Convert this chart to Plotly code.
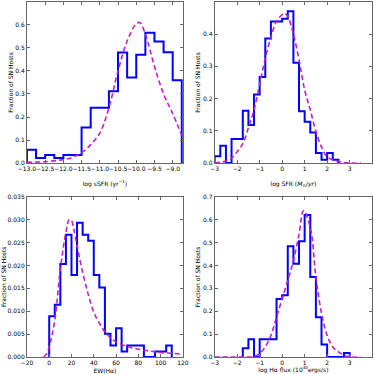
import numpy as np
import plotly.graph_objects as go

# --- top left: specific star formation rate
ssfr_edges = np.arange(-13.0, -8.74, 0.25)
ssfr_frac = [0.058, 0.022, 0.035, 0.022, 0.035, 0.035, 0.154, 0.240, 0.240,
             0.312, 0.480, 0.372, 0.470, 0.566, 0.528, 0.481, 0.360]
ssfr_fit_x = [-13.0, -12.5, -12.0, -11.75, -11.5, -11.25, -11.0, -10.75, -10.5,
              -10.25, -10.0, -9.9, -9.75, -9.5, -9.25, -9.0, -8.75]
ssfr_fit_y = [0.003, 0.006, 0.015, 0.025, 0.045, 0.08, 0.13, 0.24, 0.40,
              0.53, 0.605, 0.61, 0.56, 0.42, 0.30, 0.215, 0.12]

# --- top right: star formation rate
sfr_edges = np.arange(-3.0, 2.51, 0.25)
sfr_frac = [0.021, 0.054, 0.0, 0.075, 0.075, 0.162, 0.118, 0.213, 0.267, 0.386,
            0.439, 0.439, 0.448, 0.471, 0.311, 0.161, 0.128, 0.095, 0.031, 0.010,
            0.031, 0.010]
sfr_fit_x = [-3.0, -2.5, -2.25, -2.0, -1.75, -1.5, -1.25, -1.0, -0.75, -0.5, -0.25,
             0.0, 0.1, 0.25, 0.5, 0.75, 1.0, 1.25, 1.5, 1.75, 2.0, 2.5, 3.0, 3.5]
sfr_fit_y = [0.0, 0.006, 0.015, 0.035, 0.06, 0.11, 0.165, 0.245, 0.325, 0.39, 0.44,
             0.46, 0.465, 0.455, 0.40, 0.32, 0.227, 0.165, 0.098, 0.05, 0.02,
             0.005, 0.0, 0.0]

# --- bottom left: H-alpha equivalent width
ew_edges = np.arange(0, 111, 5)
ew_frac = [0.0089, 0.0114, 0.0203, 0.0267, 0.0179, 0.0293, 0.0267, 0.0254,
           0.0179, 0.0152, 0.0051, 0.0025, 0.0063, 0.0012, 0.0025, 0.0025,
           0.0025, 0.0, 0.0, 0.0012, 0.0012, 0.0025]
ew_fit_x = [-5, -2, 0, 5, 10, 15, 18, 20, 22, 25, 30, 35, 40, 45, 50, 55, 60,
            70, 80, 90, 100, 110, 120]
ew_fit_y = [0.0, 0.0008, 0.0022, 0.008, 0.0192, 0.0272, 0.0300, 0.0298, 0.028,
            0.0243, 0.0185, 0.0137, 0.0098, 0.0074, 0.0055, 0.0042, 0.0033,
            0.0023, 0.0017, 0.0013, 0.001, 0.0008, 0.0006]

# --- bottom right: H-alpha flux
flux_edges = np.arange(-1.75, 3.01, 0.25)
flux_frac = [0.038, 0.077, 0.0, 0.077, 0.077, 0.077, 0.253, 0.270, 0.484, 0.407,
             0.505, 0.620, 0.349, 0.174, 0.055, 0.0, 0.0, 0.0, 0.017]
flux_fit_x = [-3.0, -2.0, -1.5, -1.25, -1.0, -0.75, -0.5, -0.25, 0.0, 0.25, 0.5,
              0.75, 0.95, 1.25, 1.5, 1.75, 2.0, 2.25, 2.5, 2.75, 3.0, 3.5]
flux_fit_y = [0.0, 0.0, 0.0, 0.002, 0.015, 0.045, 0.094, 0.174, 0.254, 0.334, 0.42,
              0.537, 0.639, 0.566, 0.35, 0.19, 0.094, 0.044, 0.022, 0.007, 0.0, 0.0]

panels = [
    (ssfr_edges, ssfr_frac, ssfr_fit_x, ssfr_fit_y, 'x', 'y'),
    (sfr_edges, sfr_frac, sfr_fit_x, sfr_fit_y, 'x2', 'y2'),
    (ew_edges, ew_frac, ew_fit_x, ew_fit_y, 'x3', 'y3'),
    (flux_edges, flux_frac, flux_fit_x, flux_fit_y, 'x4', 'y4'),
]

fig = go.Figure()
for edges, frac, fx, fy, xa, ya in panels:
    # step outline like matplotlib histtype='step'
    sx = [edges[0]] + list(edges)
    sy = [0] + list(frac) + [0]
    fig.add_trace(go.Scatter(x=sx, y=sy, mode='lines', line_shape='hv',
                             line=dict(color='#0000ff', width=2),
                             xaxis=xa, yaxis=ya))
    fig.add_trace(go.Scatter(x=fx, y=fy, mode='lines', line_shape='spline',
                             line=dict(color='#c61ec6', width=1.6, dash='5px,3px'),
                             xaxis=xa, yaxis=ya))

font = dict(family='DejaVu Sans', size=6, color='black')


def axis(rng, tick0, dtick, fmt, title, domain, anchor, standoff):
    return dict(range=rng, tick0=tick0, dtick=dtick, tickformat=fmt,
                domain=domain, anchor=anchor, ticks='inside', ticklen=3,
                tickwidth=0.7, tickcolor='#666', mirror='ticks', showline=True,
                linecolor='#666', linewidth=1, showgrid=False, zeroline=False,
                tickangle=0, tickfont=font, automargin=False,
                title=dict(text=title, font=font, standoff=standoff))


ytitle = 'Fraction of SN Hosts'
left, right = [0.072, 0.489], [0.574, 0.995]
top, bottom = [0.564, 0.995], [0.0455, 0.474]

fig.update_layout(
    template='none',
    width=374, height=374, autosize=False, showlegend=False,
    margin=dict(l=0, r=0, t=0, b=0),
    plot_bgcolor='white', paper_bgcolor='white',
    xaxis=axis([-13.0, -8.72], -13.0, 0.5, '.1f',
               'log sSFR (yr<sup>−1</sup>)', left, 'y', 10),
    yaxis=axis([0, 0.7], 0, 0.1, '.1f', ytitle, top, 'x', 1),
    xaxis2=axis([-3, 4], -3, 1, 'd',
                'log SFR (<i>M</i><sub>⊙</sub>/<i>yr</i>)', right, 'y2', 10),
    yaxis2=axis([0, 0.5], 0, 0.1, '.1f', ytitle, top, 'x2', 1),
    xaxis3=axis([-20, 120], -20, 20, 'd', 'EW(Hα)', left, 'y3', 10),
    yaxis3=axis([0, 0.035], 0, 0.005, '.3f', ytitle, bottom, 'x3', 1),
    xaxis4=axis([-3, 4], -3, 1, 'd',
                'log Hα flux (10<sup>40</sup>ergs/s)', right, 'y4', 10),
    yaxis4=axis([0, 0.7], 0, 0.1, '.1f', ytitle, bottom, 'x4', 1),
)

# the page body has a default 8px margin; drop it so the figure sits at 0,0
fig.write_html("out.html", config={'displayModeBar': False},
               post_script="document.body.style.margin='0px';")
